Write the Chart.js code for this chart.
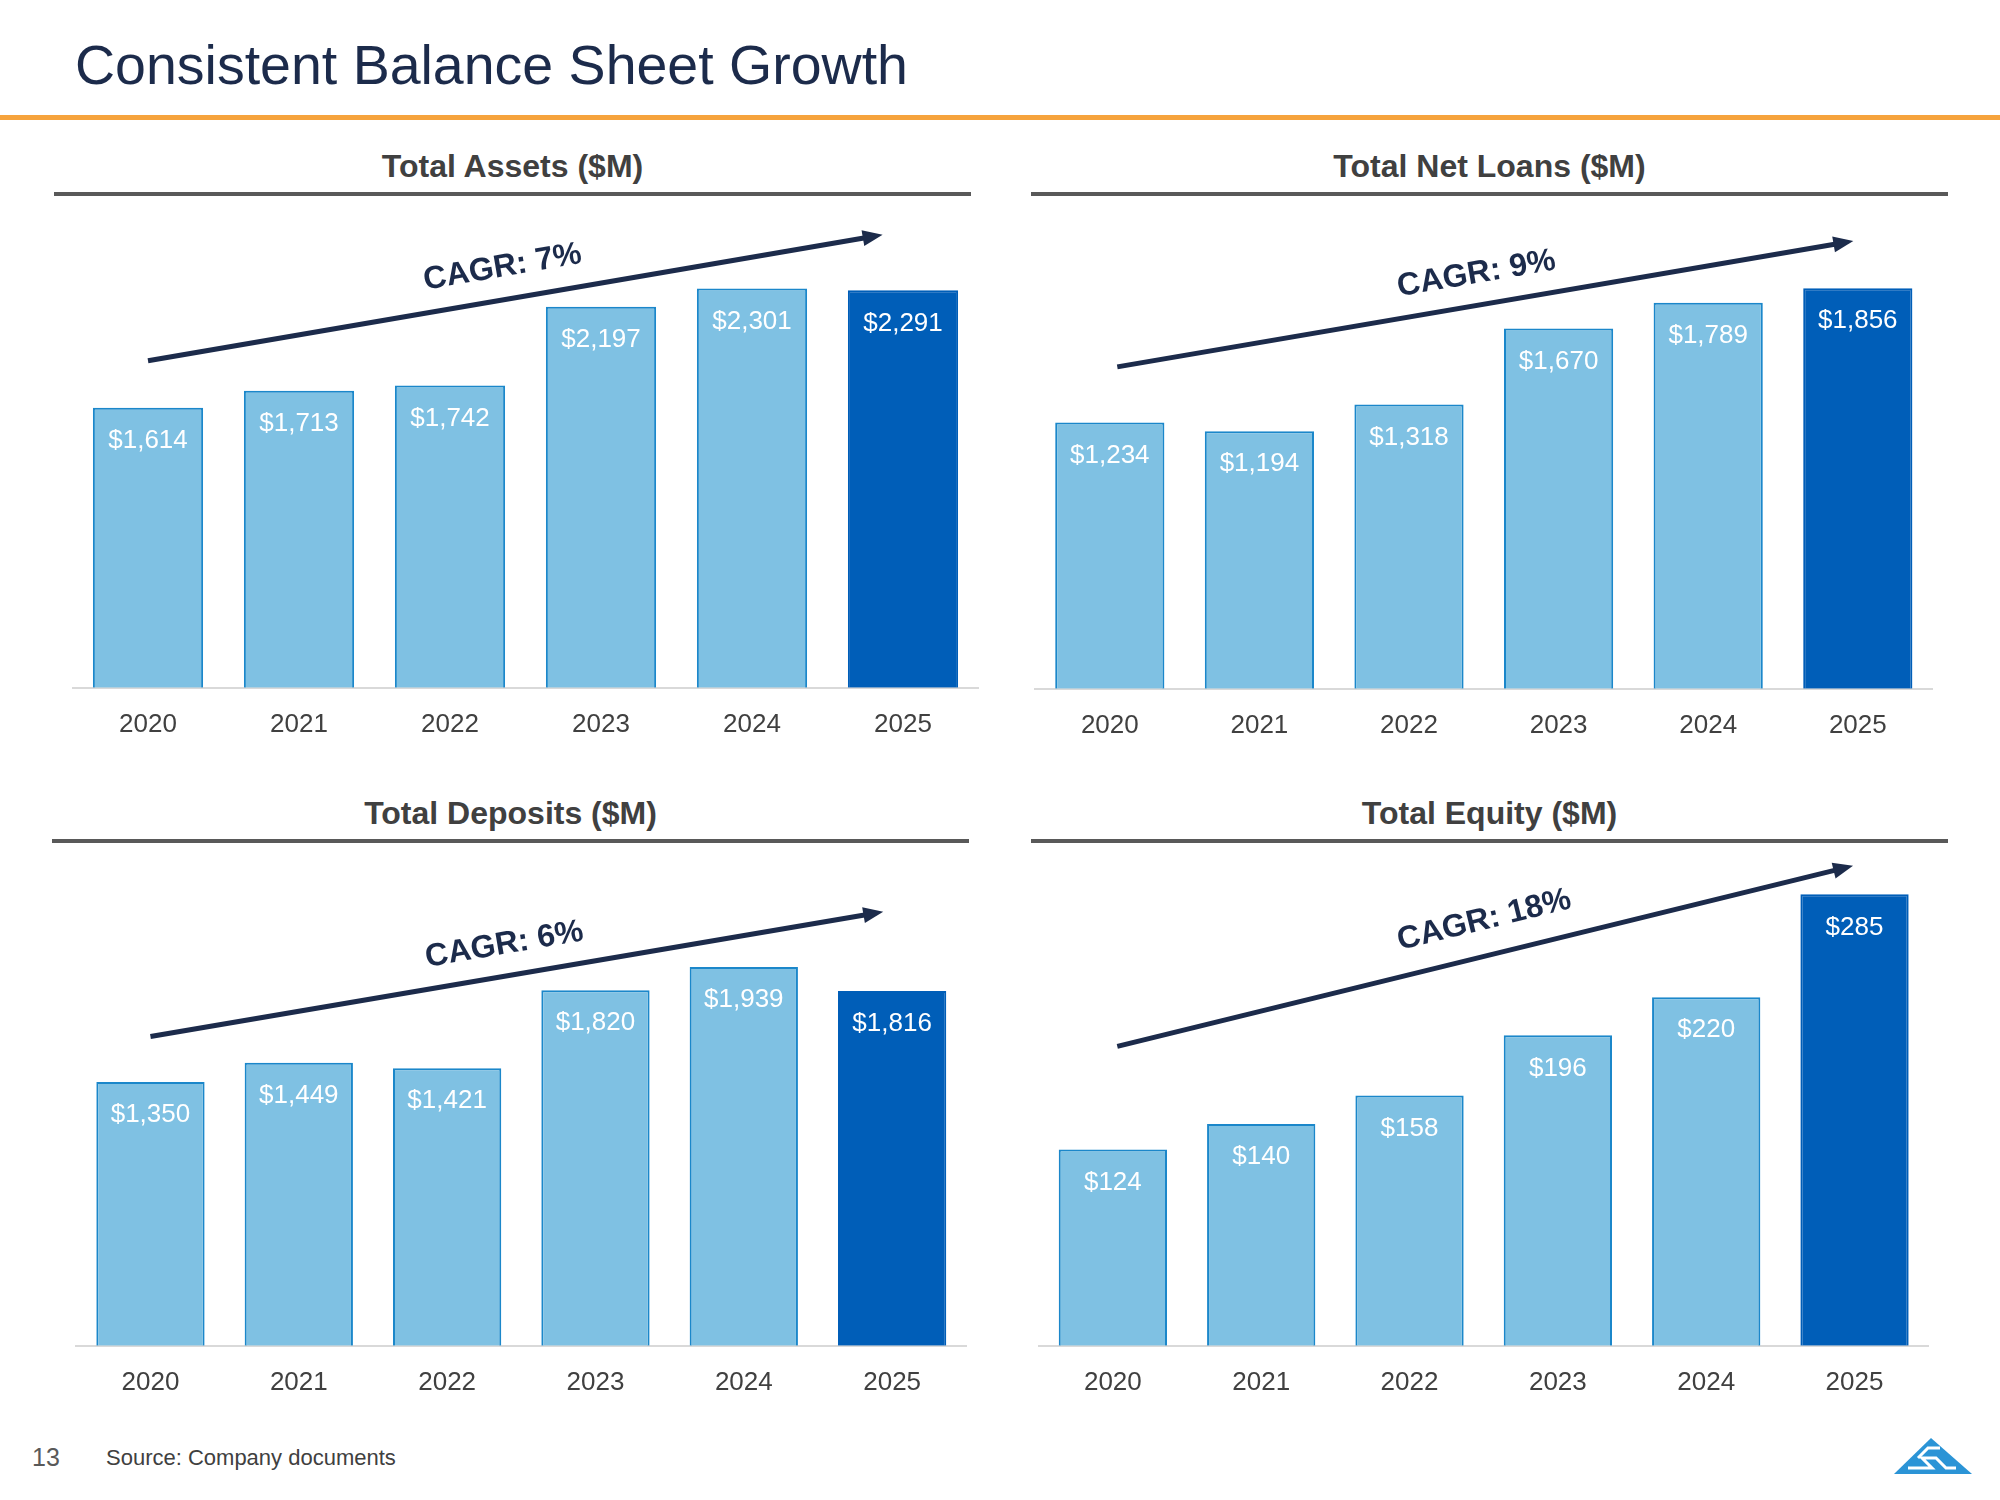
<!DOCTYPE html>
<html>
<head>
<meta charset="utf-8">
<script src="https://cdn.jsdelivr.net/npm/chart.js@4.4.1/dist/chart.umd.min.js"></script>
<style>
  body { margin: 0; width: 2000px; height: 1500px; background: #fff; position: relative; overflow: hidden; font-family: "Liberation Sans", Arial, sans-serif; }
  .abs { position: absolute; }
  #title { left: 75px; top: 38px; font-size: 55.5px; line-height: 1; color: #1c2b4b; white-space: nowrap; }
  #orange { left: 0; top: 115px; width: 2000px; height: 5px; background: #f6a33c; }
  .ptitle { font-size: 32px; font-weight: bold; line-height: 1; color: #404040; text-align: center; white-space: nowrap; }
  .rule { height: 4px; background: #595959; }
  canvas.abs { display: block; }
  #pageno { left: 32px; top: 1445px; font-size: 25px; line-height: 1; color: #595959; }
  #source { left: 106px; top: 1447px; font-size: 22px; line-height: 1; color: #404040; }
</style>
</head>
<body>
<div id="title" class="abs">Consistent Balance Sheet Growth</div>
<div id="orange" class="abs"></div>

<div class="abs ptitle" style="left:54px; width:917px; top:150px;">Total Assets ($M)</div>
<div class="abs rule" style="left:54px; width:917px; top:192px;"></div>
<div class="abs ptitle" style="left:1031px; width:917px; top:150px;">Total Net Loans ($M)</div>
<div class="abs rule" style="left:1031px; width:917px; top:192px;"></div>
<div class="abs ptitle" style="left:52px; width:917px; top:797px;">Total Deposits ($M)</div>
<div class="abs rule" style="left:52px; width:917px; top:839px;"></div>
<div class="abs ptitle" style="left:1031px; width:917px; top:797px;">Total Equity ($M)</div>
<div class="abs rule" style="left:1031px; width:917px; top:839px;"></div>

<canvas id="assets" class="abs" style="left:60px; top:200px;" width="930" height="580"></canvas>
<canvas id="loans" class="abs" style="left:1020px; top:200px;" width="930" height="580"></canvas>
<canvas id="deposits" class="abs" style="left:60px; top:845px;" width="930" height="593"></canvas>
<canvas id="equity" class="abs" style="left:1020px; top:845px;" width="930" height="593"></canvas>

<div id="pageno" class="abs">13</div>
<div id="source" class="abs">Source: Company documents</div>

<svg class="abs" style="left:1888px; top:1430px;" width="90" height="50" viewBox="0 0 90 50">
  <polygon points="6,44 43,8 84,44" fill="#2b94d6"/>
  <polyline points="20,38 44,38 34,28 48,28 58,38 68,38" fill="none" stroke="#fff" stroke-width="3"/>
  <polyline points="30,28 40,18 52,18" fill="none" stroke="#fff" stroke-width="3"/>
</svg>

<script>
const years = ['2020', '2021', '2022', '2023', '2024', '2025'];
const totalAssets = [1614, 1713, 1742, 2197, 2301, 2291];
const totalNetLoans = [1234, 1194, 1318, 1670, 1789, 1856];
const totalDeposits = [1350, 1449, 1421, 1820, 1939, 1816];
const totalEquity = [124, 140, 158, 196, 220, 285];
const cagrLabels = ['CAGR: 7%', 'CAGR: 9%', 'CAGR: 6%', 'CAGR: 18%'];

const lightBlue = '#7fc1e3'
const lightBorder = '#1b87ca'
const darkBlue = '#005eb8'
const navy = '#1c2b4b'

Chart.defaults.font.family = '"Liberation Sans", Arial, sans-serif';
Chart.defaults.animation = false;

// value labels inside the top of each bar
const barLabels = {
  id: 'barLabels',
  afterDatasetsDraw(chart) {
    const ctx = chart.ctx;
    const values = chart.data.datasets[0].data;
    ctx.save();
    ctx.font = '26px "Liberation Sans", Arial';
    ctx.fillStyle = '#ffffff';
    ctx.textAlign = 'center';
    ctx.textBaseline = 'middle';
    chart.getDatasetMeta(0).data.forEach((bar, i) => {
      ctx.fillText('$' + values[i].toLocaleString('en-US'), bar.x, bar.y + 33);
    });
    ctx.restore();
  }
};

// CAGR arrow, ends given in scale units
const cagrArrow = {
  id: 'cagrArrow',
  afterDraw(chart, args, opts) {
    const ctx = chart.ctx;
    const xs = chart.scales.x, ys = chart.scales.y;
    const x1 = xs.getPixelForValue(opts.from[0]), y1 = ys.getPixelForValue(opts.from[1]);
    const x2 = xs.getPixelForValue(opts.to[0]), y2 = ys.getPixelForValue(opts.to[1]);
    const a = Math.atan2(y2 - y1, x2 - x1);
    const head = 20, half = 8;
    ctx.save();
    ctx.strokeStyle = navy;
    ctx.fillStyle = navy;
    ctx.lineWidth = 5;
    ctx.beginPath();
    ctx.moveTo(x1, y1);
    ctx.lineTo(x2 - Math.cos(a) * head * 0.8, y2 - Math.sin(a) * head * 0.8);
    ctx.stroke();
    ctx.beginPath();
    ctx.moveTo(x2, y2);
    ctx.lineTo(x2 - Math.cos(a) * head - Math.sin(a) * half, y2 - Math.sin(a) * head + Math.cos(a) * half);
    ctx.lineTo(x2 - Math.cos(a) * head + Math.sin(a) * half, y2 - Math.sin(a) * head - Math.cos(a) * half);
    ctx.closePath();
    ctx.fill();

    const t = opts.at;
    const mx = x1 + (x2 - x1) * t, my = y1 + (y2 - y1) * t;
    const tx = mx + Math.sin(a) * opts.offset, ty = my - Math.cos(a) * opts.offset;
    ctx.translate(tx, ty);
    ctx.rotate(a);
    ctx.font = 'bold 32px "Liberation Sans", Arial';
    ctx.textAlign = 'center';
    ctx.textBaseline = 'middle';
    ctx.fillText(opts.label, 0, 0);
    ctx.restore();
  }
};

function makeChart(id, values, yMax, pad, arrow) {
  const n = values.length;
  return new Chart(document.getElementById(id), {
    type: 'bar',
    data: {
      labels: years,
      datasets: [{
        data: values,
        backgroundColor: values.map((v, i) => i === n - 1 ? darkBlue : lightBlue),
        borderColor: values.map((v, i) => i === n - 1 ? darkBlue : lightBorder),
        borderWidth: 2,
        categoryPercentage: 1,
        barPercentage: 0.73
      }]
    },
    options: {
      responsive: false,
      layout: { padding: pad },
      plugins: {
        legend: { display: false },
        tooltip: { enabled: false },
        cagrArrow: arrow
      },
      scales: {
        x: {
          grid: { display: false, drawTicks: false },
          border: { display: true, color: '#d9d9d9', width: 2 },
          ticks: { color: '#404040', font: { size: 26 }, padding: 21 }
        },
        y: { display: false, min: 0, max: yMax }
      }
    },
    plugins: [barLabels, cagrArrow]
  })
}

makeChart('assets', totalAssets, 2783,
  { left: 12.5, right: 11.5, top: 5, bottom: 19 },
  { label: cagrLabels[0], from: [0, 1885], to: [4.865, 2611], offset: 32, at: 0.49 });

makeChart('loans', totalNetLoans, 2242,
  { left: 15, right: 17.4, top: 5, bottom: 18 },
  { label: cagrLabels[1], from: [0.05, 1492], to: [4.97, 2075], offset: 31, at: 0.495 });

makeChart('deposits', totalDeposits, 2538,
  { left: 16.3, right: 23.7, top: 5, bottom: 19 },
  { label: cagrLabels[2], from: [0, 1583], to: [4.94, 2222], offset: 31, at: 0.49 });

makeChart('equity', totalEquity, 313,
  { left: 18.7, right: 21.3, top: 5, bottom: 19 },
  { label: cagrLabels[3], from: [0.03, 189], to: [4.99, 303], offset: 35, at: 0.51 });
</script>
</body>
</html>
